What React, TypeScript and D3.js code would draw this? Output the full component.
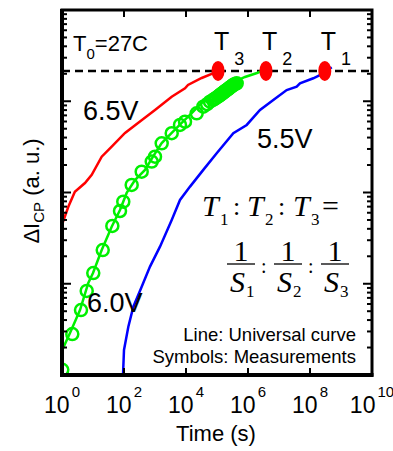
import React, { useEffect, useRef } from "react";
import * as d3 from "d3";

// red = 6.5V stress, universal curve
const redTime = [1.07, 1.6, 2.6, 5.5, 9.1, 19.1, 40.1, 108, 283, 1000, 3460, 9290, 11600, 32100, 67500, 107700];
const redDI = [47.5, 69.8, 102, 127, 156, 247, 318, 449, 578, 802, 1122, 1384, 1507, 1799, 1991, 2148];

// green = 6.0V, line + measured symbols
const greenTime = [1.02, 1.81, 3.81, 7.05, 10, 19.1, 40.1, 74.3, 122, 226, 475, 861, 1644, 3460, 7260, 15300, 32100, 67500, 142000, 298000, 800000, 1.95e6, 5.52e6];
const greenDI = [1.88, 2.88, 5.15, 10.2, 13.1, 23.4, 42.2, 64.3, 98.9, 137, 177, 247, 348, 449, 578, 743, 957, 1122, 1327, 1585, 1845, 2042, 2371];

const measTime = [1.02, 2.15, 4.1, 6.27, 10.2, 20.6, 42, 74.3, 94.8, 177, 372, 783, 1000, 1644, 3460, 6400, 9290, 22100, 36100, 48000, 59400,
  74300, 84000, 92900, 107700, 116000, 125000, 135000, 145000, 156000, 168000, 181000, 195000, 210000, 226000, 244000, 262000, 283000, 305000, 328000, 353000, 390000, 432000];
const measDI = [1.14, 2.81, 5.15, 8.34, 13.1, 23.4, 43, 62.7, 79.3, 121, 169, 218, 247, 346, 446, 550, 597, 738, 871, 930, 989,
  1033, 1060, 1086, 1127, 1148, 1169, 1192, 1216, 1239, 1262, 1287, 1312, 1336, 1361, 1388, 1416, 1442, 1469, 1498, 1528, 1550, 1574];

// blue = 5.5V
const blueTime = [92.9, 100, 138, 200, 372, 690, 1449, 3460, 6400, 13500, 36100, 97700, 336000, 908000, 2.44e6, 6.55e6, 1.77e7, 3.72e7, 4.75e7, 1.28e8, 2.69e8, 5.01e8];
const blueDI = [1, 1.88, 3.38, 5.6, 9.29, 15.4, 25.5, 50, 82.8, 116, 177, 269, 446, 550, 802, 1033, 1327, 1445, 1574, 1786, 2023, 2355];

const markerTime = [3.0e8, 3.8e6, 1.08e5];
const markerName = ["1", "2", "3"];
const threshold = 2150;
const xTickExp = [0, 2, 4, 6, 8, 10];

export default function App() {
  const ref = useRef<SVGSVGElement>(null);

  useEffect(() => {
    const svg = d3.select(ref.current);
    svg.selectAll("*").remove();

    const L = 62, R = 372, T = 10, B = 375;
    const x = d3.scaleLog().domain([1, 1e10]).range([L, R]);
    const y = d3.scaleLog().domain([1, 1e4]).range([B, T]);
    const sans = "Liberation Sans, Arial, sans-serif";
    const serif = "Liberation Serif, Times New Roman, serif";
    const green = "#00f000";

    svg.append("defs").append("clipPath").attr("id", "plotclip")
      .append("rect").attr("x", L).attr("y", T).attr("width", R - L).attr("height", B - T);

    const plot = svg.append("g").attr("clip-path", "url(#plotclip)");

    // threshold dashed line
    plot.append("line")
      .attr("x1", L).attr("x2", R).attr("y1", y(threshold)).attr("y2", y(threshold))
      .attr("stroke", "black").attr("stroke-width", 2.5).attr("stroke-dasharray", "8,5");

    const line = d3.line<[number, number]>().x(d => x(d[0])).y(d => y(d[1]));
    const curves: [number[], number[], string][] = [
      [redTime, redDI, "#ff0000"],
      [greenTime, greenDI, green],
      [blueTime, blueDI, "#0000ff"],
    ];
    curves.forEach(([t, v, c]) => {
      plot.append("path")
        .datum(t.map((d, i) => [d, v[i]] as [number, number]))
        .attr("d", line)
        .attr("fill", "none").attr("stroke", c).attr("stroke-width", 2.5);
    });

    plot.selectAll("circle.meas")
      .data(measTime.map((d, i) => [d, measDI[i]]))
      .enter().append("circle")
      .attr("class", "meas")
      .attr("cx", d => x(d[0])).attr("cy", d => y(d[1])).attr("r", 6)
      .attr("fill", "none").attr("stroke", green).attr("stroke-width", 2.5);

    // crossing markers
    svg.selectAll("ellipse.mk")
      .data(markerTime)
      .enter().append("ellipse")
      .attr("class", "mk")
      .attr("cx", d => x(d)).attr("cy", y(threshold)).attr("rx", 6.5).attr("ry", 10)
      .attr("fill", "#ff0000");

    markerTime.forEach((d, i) => {
      const tx = svg.append("text").attr("x", x(d) - 4).attr("y", 50)
        .attr("font-family", sans).attr("font-size", 25);
      tx.append("tspan").text("T");
      tx.append("tspan").attr("dx", 5).attr("dy", 15).attr("font-size", 18).text(markerName[i]);
    });

    // frame
    svg.append("rect").attr("x", L).attr("y", T).attr("width", R - L).attr("height", B - T)
      .attr("fill", "none").attr("stroke", "black").attr("stroke-width", 3);
    svg.append("line").attr("x1", L).attr("x2", L).attr("y1", T - 1).attr("y2", B + 2)
      .attr("stroke", "black").attr("stroke-width", 4);
    svg.append("line").attr("x1", L - 2).attr("x2", R + 1.5).attr("y1", B).attr("y2", B)
      .attr("stroke", "black").attr("stroke-width", 4);

    // y ticks, log minor ticks
    const yTicks = y.ticks();
    const isMajor = (v: number) => Math.abs(Math.log10(v) - Math.round(Math.log10(v))) < 1e-6;
    const ytg = svg.append("g").attr("stroke", "black").attr("stroke-width", 2);
    ytg.selectAll("line.l").data(yTicks).enter().append("line")
      .attr("x1", L).attr("x2", d => L + (isMajor(d) ? 9 : 5))
      .attr("y1", d => y(d)).attr("y2", d => y(d));
    ytg.selectAll("line.r").data(yTicks).enter().append("line")
      .attr("x1", R).attr("x2", d => R - (isMajor(d) ? 9 : 5))
      .attr("y1", d => y(d)).attr("y2", d => y(d));

    // x ticks
    const xTicks = xTickExp.slice(1, -1).map(e => Math.pow(10, e));
    const xtg = svg.append("g").attr("stroke", "black").attr("stroke-width", 2);
    xtg.selectAll("line.b").data(xTicks).enter().append("line")
      .attr("x1", d => x(d)).attr("x2", d => x(d)).attr("y1", B).attr("y2", B - 7);
    xtg.selectAll("line.t").data(xTicks).enter().append("line")
      .attr("x1", d => x(d)).attr("x2", d => x(d)).attr("y1", T).attr("y2", T + 7);

    xTickExp.forEach(e => {
      const tx = svg.append("text").attr("x", x(Math.pow(10, e))).attr("y", 413)
        .attr("text-anchor", "middle").attr("font-family", sans).attr("font-size", 23);
      tx.append("tspan").text("10");
      tx.append("tspan").attr("dx", 2).attr("dy", -16).attr("font-size", 15).text(String(e));
    });

    svg.append("text").attr("x", 216).attr("y", 441).attr("text-anchor", "middle")
      .attr("font-family", sans).attr("font-size", 22).text("Time (s)");

    const yl = svg.append("text").attr("transform", "translate(39,191) rotate(-90)")
      .attr("text-anchor", "middle").attr("font-family", sans).attr("font-size", 22);
    yl.append("tspan").text("ΔI");
    yl.append("tspan").attr("dy", 5).attr("font-size", 15).text("CP");
    yl.append("tspan").attr("dy", -5).text(" (a. u.)");

    // annotations
    const t0 = svg.append("text").attr("x", 73).attr("y", 51).attr("font-family", sans).attr("font-size", 22);
    t0.append("tspan").text("T");
    t0.append("tspan").attr("dy", 8).attr("font-size", 15).text("0");
    t0.append("tspan").attr("dy", -8).text("=27C");

    const labels: [string, number, number][] = [["6.5V", 83, 120], ["5.5V", 257, 148], ["6.0V", 87, 312]];
    labels.forEach(([s, lx, ly]) => {
      svg.append("text").attr("x", lx).attr("y", ly).attr("font-family", sans).attr("font-size", 27).text(s);
    });

    svg.append("text").attr("x", 356).attr("y", 341).attr("text-anchor", "end")
      .attr("font-family", sans).attr("font-size", 18.5).text("Line: Universal curve");
    svg.append("text").attr("x", 356).attr("y", 363).attr("text-anchor", "end")
      .attr("font-family", sans).attr("font-size", 18.5).text("Symbols: Measurements");

    // formula T1:T2:T3 = 1/S1 : 1/S2 : 1/S3
    const f = svg.append("g").attr("font-family", serif);
    const top = f.append("text").attr("font-size", 30);
    const topX = [202, 247, 293];
    topX.forEach((tx0, i) => {
      top.append("tspan").attr("x", tx0).attr("y", 216).attr("font-style", "italic").text("T");
      top.append("tspan").attr("x", tx0 + 18).attr("y", 225).attr("font-size", 17).text(String(i + 1));
      if (i < 2) top.append("tspan").attr("x", tx0 + 31).attr("y", 215).attr("font-size", 26).text(":");
    });
    top.append("tspan").attr("x", 322).attr("y", 216).text("=");

    const fracX = [241, 288, 335];
    fracX.forEach((cx, i) => {
      f.append("text").attr("x", cx).attr("y", 261).attr("text-anchor", "middle").attr("font-size", 30).text("1");
      f.append("line").attr("x1", cx - 14).attr("x2", cx + 14).attr("y1", 264).attr("y2", 264)
        .attr("stroke", "black").attr("stroke-width", 1.3);
      const s = f.append("text").attr("font-size", 30);
      s.append("tspan").attr("x", cx - 11).attr("y", 292).attr("font-style", "italic").text("S");
      s.append("tspan").attr("x", cx + 5).attr("y", 297).attr("font-size", 17).text(String(i + 1));
      if (i < 2) f.append("text").attr("x", cx + 20).attr("y", 273).attr("font-size", 20).text(":");
    });
  }, []);

  return <svg ref={ref} width={393} height={451} style={{ position: "absolute", left: 0, top: 0, background: "white" }} />;
}
